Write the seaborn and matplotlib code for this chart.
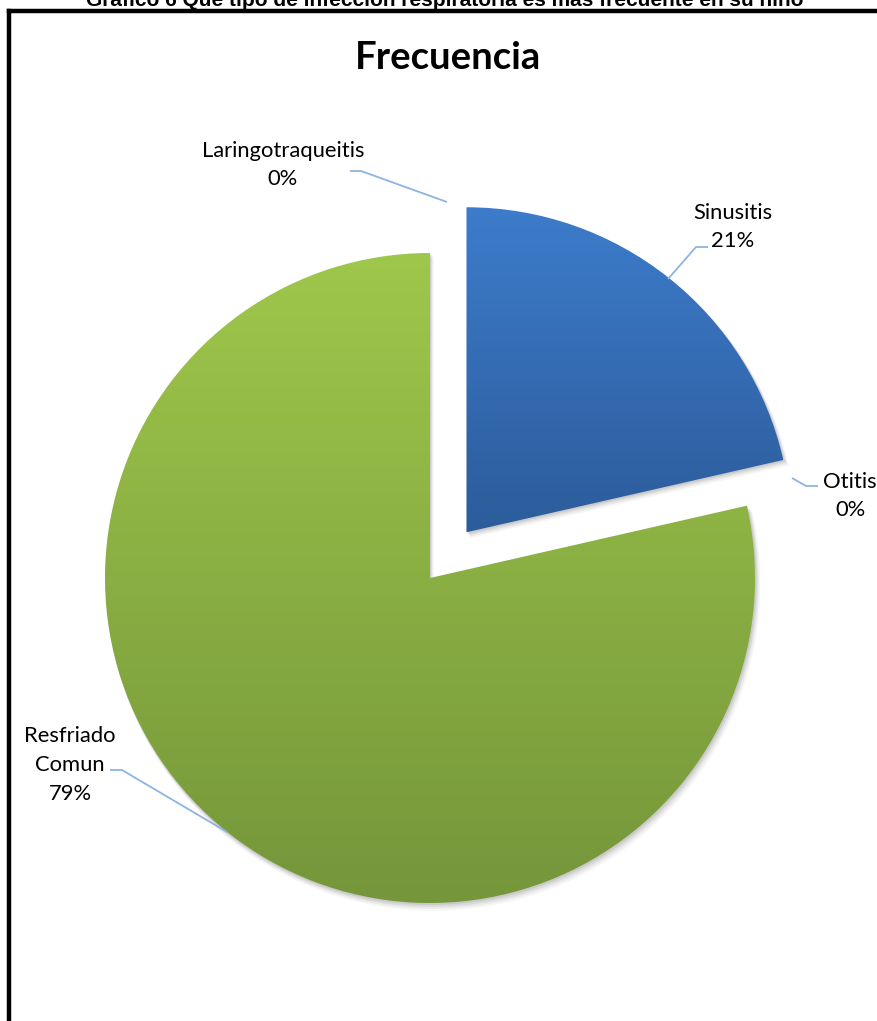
import numpy as np
import matplotlib
matplotlib.use("Agg")
import matplotlib.pyplot as plt
from matplotlib.patches import Wedge
from matplotlib.colors import to_rgb
import seaborn as sns

# Survey answers (number of children) per respiratory infection type
categories = ["Sinusitis", "Otitis", "Resfriado\nComun", "Laringotraqueitis"]
counts = [15, 0, 55, 0]

chart_title = "Frecuencia"
header = "Gráfico 6 Qué tipo de infección respiratoria es más frecuente en su niño"

sns.set_theme(style="white")
plt.rcParams["font.family"] = ["Lato", "DejaVu Sans"]

W, H = 877, 1021
fig = plt.figure(figsize=(W / 100, H / 100), dpi=100)
ax = fig.add_axes([0, 0, 1, 1])


def px(x, y):
    """Convert top-left based pixel position to data coordinates."""
    return x, H - y


# top/bottom gradient colours of each slice
grad = {
    0: ("#3d7ccb", "#2c5c9b"),
    1: ("#3d7ccb", "#2c5c9b"),
    2: ("#9fc74b", "#75963a"),
    3: ("#9fc74b", "#75963a"),
}

cx, cy = px(430, 578)
radius = 325
wedges, _ = ax.pie(
    counts,
    startangle=90,
    counterclock=False,
    center=(cx, cy),
    radius=radius,
    explode=[0.18 * radius, 0, 0, 0],
    wedgeprops=dict(linewidth=0, edgecolor="none"),
)

# soft drop shadow beneath the slices
for w in wedges:
    if w.theta2 - w.theta1 < 1e-6:
        continue
    for d, a in [(6, 0.05), (4.5, 0.07), (3, 0.10), (1.5, 0.12)]:
        sh = Wedge((w.center[0] + d * 0.6, w.center[1] - d), w.r + d * 0.3,
                   w.theta1, w.theta2, facecolor="#555555", edgecolor="none",
                   alpha=a, zorder=0.5)
        ax.add_patch(sh)

# vertical gradient fill clipped to each slice
for i, w in enumerate(wedges):
    if w.theta2 - w.theta1 < 1e-6:
        continue
    w.set_facecolor("none")
    w.set_zorder(2)
    bb = w.get_path().get_extents()
    top, bot = np.array(to_rgb(grad[i][0])), np.array(to_rgb(grad[i][1]))
    t = np.linspace(0, 1, 256)[:, None, None]
    img = top[None, None, :] * (1 - t) + bot[None, None, :] * t
    im = ax.imshow(img, extent=[bb.x0, bb.x1, bb.y0, bb.y1], origin="upper",
                   aspect="auto", interpolation="bilinear", zorder=1)
    im.set_clip_path(w)

# percentage labels with leader lines
total = sum(counts)
pct = [f"{round(100 * c / total)}%" for c in counts]
lead = "#8db4e2"
lab_fs = 15.8

label_spec = {
    "Laringotraqueitis": dict(pos=(283, 165), line=[(447, 202), (361, 171), (350, 171)]),
    "Sinusitis": dict(pos=(733, 227), line=[(668, 279), (696, 247), (708, 247)]),
    "Otitis": dict(pos=(850, 496), line=[(792, 478), (806, 486), (818, 486)]),
    "Resfriado\nComun": dict(pos=(70, 765), line=[(227, 832), (122, 770), (110, 770)]),
}
for name, p in zip(categories, pct):
    spec = label_spec[name]
    xs, ys = zip(*[px(*q) for q in spec["line"]])
    ax.plot(xs, ys, color=lead, lw=1.3, zorder=3, solid_capstyle="butt")
    ax.text(*px(*spec["pos"]), f"{name}\n{p}", ha="center", va="center",
            fontsize=lab_fs, color="black", linespacing=1.55, zorder=4)

ax.text(*px(448, 58), chart_title, ha="center", va="center",
        fontsize=27.5, fontweight="bold", color="black")

# caption above the frame (partly out of the page)
fig.text(445 / W, 1 - 6 / H, header, ha="center", va="baseline",
         fontsize=15, fontweight="bold", color="black",
         family=["Liberation Sans", "DejaVu Sans"])

# chart frame (left and top sides on the page)
ax.plot([9, 9], [H - 11, -10], color="black", lw=3.2, solid_capstyle="projecting", zorder=5)
ax.plot([9, W + 10], [H - 11, H - 11], color="black", lw=3.2, solid_capstyle="projecting", zorder=5)

ax.set_xlim(0, W)
ax.set_ylim(0, H)
ax.set_aspect("auto")
ax.axis("off")

fig.savefig("out.png", dpi=100)
